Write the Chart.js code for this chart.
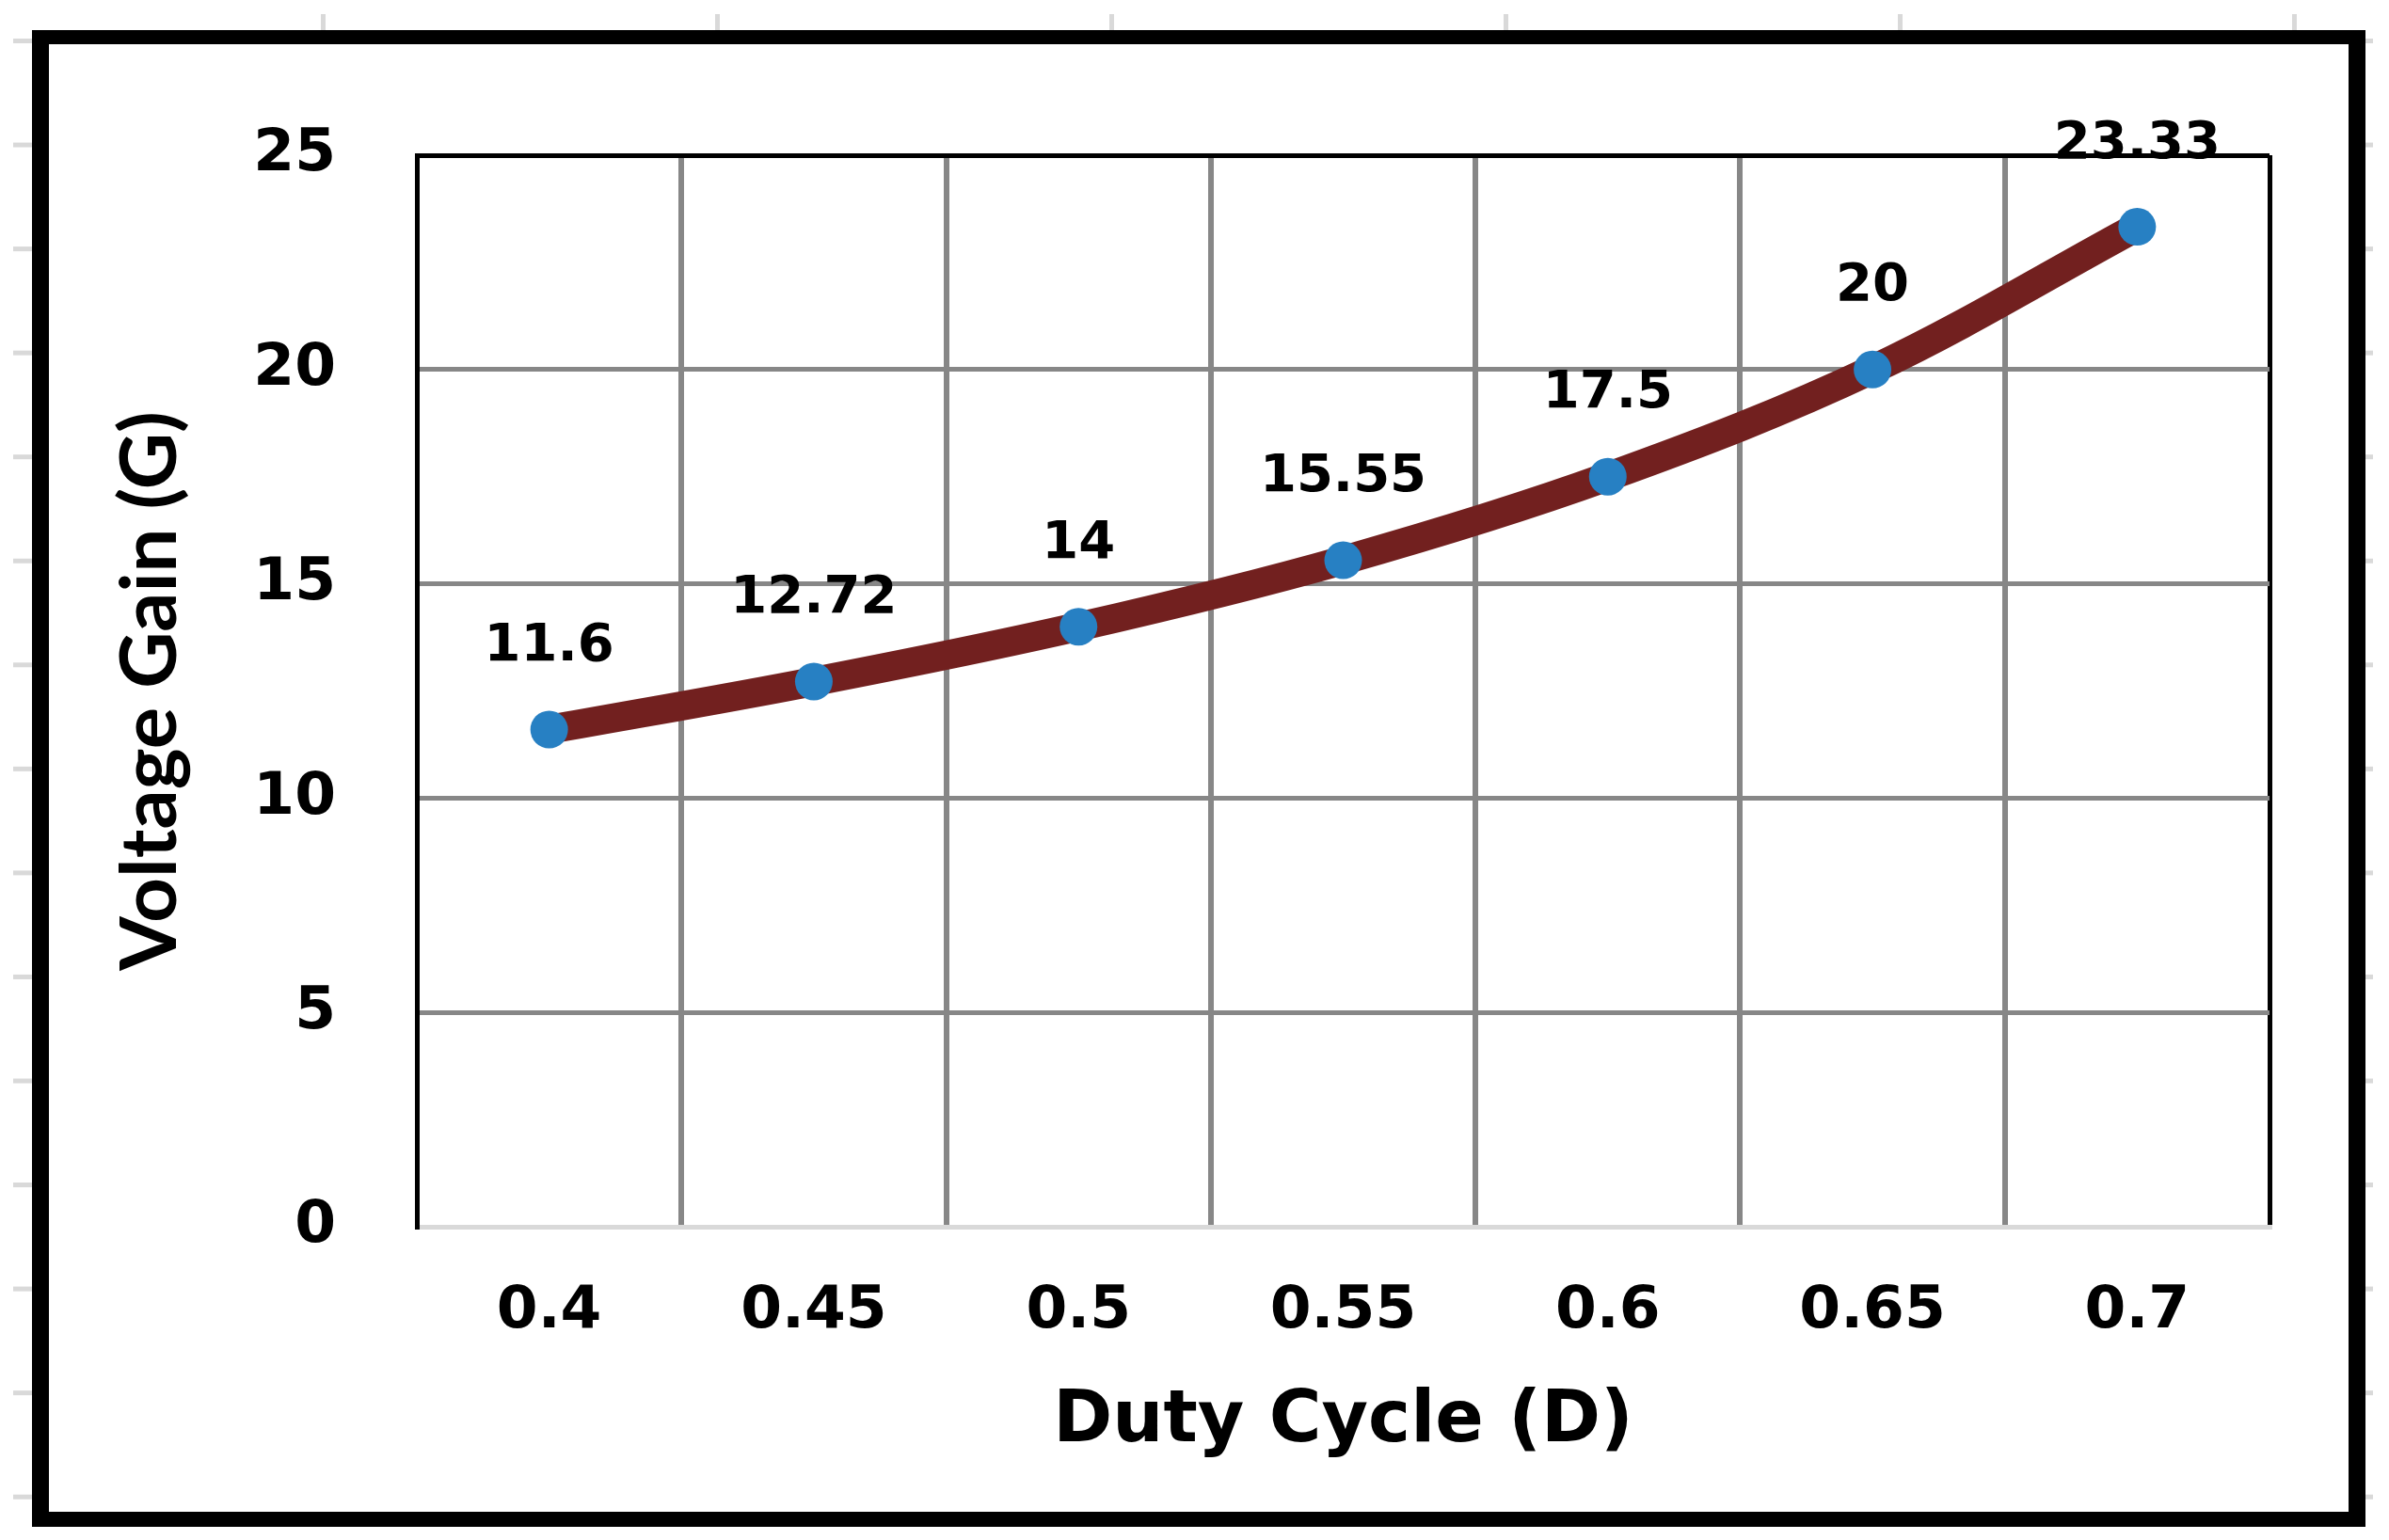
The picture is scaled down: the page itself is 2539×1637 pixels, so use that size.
<!DOCTYPE html>
<html>
<head>
<meta charset="utf-8">
<script src="https://cdn.jsdelivr.net/npm/chart.js@4.4.1/dist/chart.umd.min.js"></script>
<style>
  html, body { margin: 0; padding: 0; background: #ffffff; }
  canvas { display: block; }
</style>
</head>
<body>
<canvas id="chart" width="2539" height="1637"></canvas>
<script>
// ---- data ----
const dutyCycle = ['0.4', '0.45', '0.5', '0.55', '0.6', '0.65', '0.7'];
const voltageGain = [11.6, 12.72, 14, 15.55, 17.5, 20, 23.33];
const gainLabels = ['11.6', '12.72', '14', '15.55', '17.5', '20', '23.33'];
const yMin = 0, yMax = 25, yStep = 5;
const xTitle = 'Duty Cycle (D)';
const yTitle = 'Voltage Gain (G)';

// ---- fonts ----
const MAIN_FAMILY = '"DejaVu Sans"';
function pickYTitleFont() {
  const c = document.createElement('canvas').getContext('2d');
  c.font = 'bold 100px monospace';
  const mono = c.measureText(yTitle).width;
  c.font = 'bold 100px "Liberation Sans Narrow", monospace';
  const narrow = c.measureText(yTitle).width;
  const family = Math.abs(narrow - mono) > 1 ? '"Liberation Sans Narrow"' : 'Lato';
  c.font = 'bold 100px ' + family;
  const size = Math.round(100 * 592 / c.measureText(yTitle).width);
  return { family, size };
}
const yTitleFont = pickYTitleFont();

const GRID = '#878787';
const LIGHT = '#d9d9d9';

// ---- decorative frame (outer border + faint sheet cell marks) ----
const framePlugin = {
  id: 'frame',
  beforeDraw(chart) {
    const ctx = chart.ctx;
    const W = chart.width, H = chart.height;
    ctx.save();
    ctx.fillStyle = '#ffffff';
    ctx.fillRect(0, 0, W, H);
    ctx.fillStyle = LIGHT;
    for (let k = 0; k < 6; k++) {
      const x = 343 + 419 * k;
      ctx.fillRect(x - 2, 15, 5, 18);
    }
    for (let k = 0; k < 15; k++) {
      const y = 43 + 110.55 * k;
      ctx.fillRect(14, y - 2, 20, 5);
      ctx.fillRect(2514, y - 2, 8, 5);
    }
    ctx.fillStyle = '#000000';
    ctx.fillRect(34, 32, 2480, 15);
    ctx.fillRect(34, 1607, 2480, 16);
    ctx.fillRect(34, 32, 18, 1591);
    ctx.fillRect(2496, 32, 18, 1591);
    ctx.restore();
  }
};

// ---- value labels above points ----
const dataLabelPlugin = {
  id: 'valueLabels',
  afterDatasetsDraw(chart) {
    const ctx = chart.ctx;
    const meta = chart.getDatasetMeta(0);
    ctx.save();
    ctx.font = 'bold 56px ' + MAIN_FAMILY;
    ctx.fillStyle = '#000000';
    ctx.textAlign = 'center';
    ctx.textBaseline = 'middle';
    meta.data.forEach((pt, i) => {
      ctx.fillText(gainLabels[i], pt.x, pt.y - 88);
    });
    ctx.restore();
  }
};

new Chart(document.getElementById('chart').getContext('2d'), {
  type: 'line',
  data: {
    labels: dutyCycle,
    datasets: [{
      data: voltageGain,
      borderColor: '#72201f',
      borderWidth: 31,
      tension: 0.35,
      fill: false,
      pointRadius: 20,
      pointHoverRadius: 20,
      pointBackgroundColor: '#2780c3',
      pointBorderColor: '#2780c3',
      pointBorderWidth: 0
    }]
  },
  options: {
    responsive: false,
    maintainAspectRatio: false,
    animation: false,
    devicePixelRatio: 1,
    events: [],
    layout: { padding: { left: 0, top: 165, right: 127, bottom: 0 } },
    plugins: {
      legend: { display: false },
      tooltip: { enabled: false },
      title: { display: false }
    },
    scales: {
      x: {
        type: 'category',
        offset: true,
        grid: {
          offset: true,
          drawTicks: false,
          color: (c) => (c.type === 'tick' && c.index > 0) ? GRID : '#000000',
          lineWidth: (c) => (c.type === 'tick' && c.index > 0) ? 6 : 5
        },
        border: { display: true, color: LIGHT, width: 5 },
        ticks: {
          padding: 53,
          color: '#000000',
          font: { family: MAIN_FAMILY, size: 63, weight: 'bold' },
          maxRotation: 0,
          autoSkip: false
        },
        title: {
          display: true,
          text: xTitle,
          color: '#000000',
          font: { family: MAIN_FAMILY, size: 76, weight: 'bold' },
          padding: { top: 0, bottom: 79 }
        },
        afterFit: (s) => { s.height = 333; }
      },
      y: {
        min: yMin,
        max: yMax,
        grid: {
          drawTicks: false,
          color: (c) => {
            const v = c.tick ? c.tick.value : null;
            if (v === yMax) return '#000000';
            if (v === yMin) return LIGHT;
            return GRID;
          },
          lineWidth: 5
        },
        border: { display: true, color: '#000000', width: 5 },
        ticks: {
          stepSize: yStep,
          padding: 86,
          color: '#000000',
          font: { family: MAIN_FAMILY, size: 63, weight: 'bold' }
        },
        title: {
          display: true,
          text: yTitle,
          color: '#000000',
          font: { family: yTitleFont.family, size: yTitleFont.size, weight: 'bold' },
          padding: { top: Math.max(0, 160 - 0.6 * yTitleFont.size), bottom: 0 }
        },
        afterFit: (s) => { s.width = 443; }
      }
    }
  },
  plugins: [framePlugin, dataLabelPlugin]
});
</script>
</body>
</html>
